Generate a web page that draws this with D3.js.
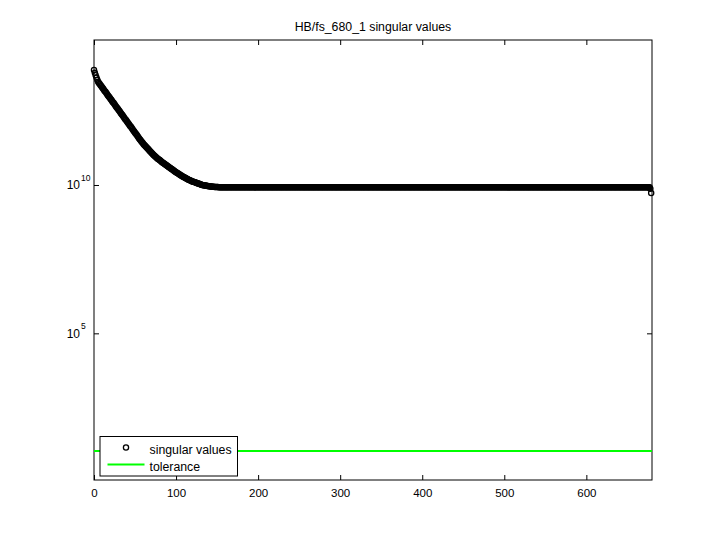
<!DOCTYPE html>
<html>
<head>
<meta charset="utf-8">
<script src="https://cdn.jsdelivr.net/npm/d3@7"></script>
<style>
  body { margin: 0; background: #fff; }
  text { font-family: "Liberation Sans", Arial, Helvetica, sans-serif; }
</style>
</head>
<body>
<svg id="chart" width="720" height="540"></svg>
<script>
// singular values, stored as log10 exponents
// first part: the decay from ~1e14 down to the plateau
let svDecayLog10 = [
  13.88,13.78,13.70,13.62,13.55,13.48,13.44,13.40,13.36,13.33,
  13.29,13.25,13.21,13.17,13.14,13.10,13.06,13.02,12.98,12.95,
  12.91,12.87,12.83,12.79,12.76,12.72,12.68,12.64,12.60,12.57,
  12.53,12.49,12.45,12.41,12.38,12.34,12.30,12.26,12.22,12.19,
  12.15,12.11,12.07,12.03,11.99,11.96,11.92,11.88,11.84,11.80,
  11.76,11.73,11.69,11.65,11.61,11.57,11.53,11.50,11.46,11.43,
  11.39,11.36,11.33,11.30,11.27,11.24,11.21,11.18,11.15,11.12,
  11.09,11.06,11.03,11.00,10.98,10.95,10.93,10.90,10.88,10.86,
  10.84,10.82,10.79,10.77,10.75,10.73,10.71,10.69,10.67,10.65,
  10.63,10.61,10.59,10.57,10.55,10.53,10.51,10.49,10.47,10.45,
  10.43,10.41,10.40,10.38,10.36,10.34,10.32,10.31,10.29,10.27,
  10.26,10.24,10.23,10.21,10.20,10.18,10.17,10.16,10.14,10.13,
  10.12,10.11,10.10,10.09,10.08,10.07,10.06,10.05,10.04,10.03,
  10.02,10.01,10.00,9.995,9.99,9.985,9.98,9.975,9.97,9.965,
  9.96,9.955,9.95,9.95,9.945,9.94,9.94,9.935,9.935,9.93,
  9.93,9.93,9.925,9.925,9.925
];
// second part: the long flat stretch just under 1e10
let svPlateauLog10 = [
  9.92,9.92,9.92,9.92,9.92,9.92,9.92,9.92,9.92,9.92,9.92,9.92,9.92,9.92,9.92,9.92,9.92,9.92,9.92,9.92,
  9.92,9.92,9.92,9.92,9.92,9.92,9.92,9.92,9.92,9.92,9.92,9.92,9.92,9.92,9.92,9.92,9.92,9.92,9.92,9.92,
  9.92,9.92,9.92,9.92,9.92,9.92,9.92,9.92,9.92,9.92,9.92,9.92,9.92,9.92,9.92,9.92,9.92,9.92,9.92,9.92,
  9.92,9.92,9.92,9.92,9.92,9.92,9.92,9.92,9.92,9.92,9.92,9.92,9.92,9.92,9.92,9.92,9.92,9.92,9.92,9.92,
  9.92,9.92,9.92,9.92,9.92,9.92,9.92,9.92,9.92,9.92,9.92,9.92,9.92,9.92,9.92,9.92,9.92,9.92,9.92,9.92,
  9.92,9.92,9.92,9.92,9.92,9.92,9.92,9.92,9.92,9.92,9.92,9.92,9.92,9.92,9.92,9.92,9.92,9.92,9.92,9.92,
  9.92,9.92,9.92,9.92,9.92,9.92,9.92,9.92,9.92,9.92,9.92,9.92,9.92,9.92,9.92,9.92,9.92,9.92,9.92,9.92,
  9.92,9.92,9.92,9.92,9.92,9.92,9.92,9.92,9.92,9.92,9.92,9.92,9.92,9.92,9.92,9.92,9.92,9.92,9.92,9.92,
  9.92,9.92,9.92,9.92,9.92,9.92,9.92,9.92,9.92,9.92,9.92,9.92,9.92,9.92,9.92,9.92,9.92,9.92,9.92,9.92,
  9.92,9.92,9.92,9.92,9.92,9.92,9.92,9.92,9.92,9.92,9.92,9.92,9.92,9.92,9.92,9.92,9.92,9.92,9.92,9.92,
  9.92,9.92,9.92,9.92,9.92,9.92,9.92,9.92,9.92,9.92,9.92,9.92,9.92,9.92,9.92,9.92,9.92,9.92,9.92,9.92,
  9.92,9.92,9.92,9.92,9.92,9.92,9.92,9.92,9.92,9.92,9.92,9.92,9.92,9.92,9.92,9.92,9.92,9.92,9.92,9.92,
  9.92,9.92,9.92,9.92,9.92,9.92,9.92,9.92,9.92,9.92,9.92,9.92,9.92,9.92,9.92,9.92,9.92,9.92,9.92,9.92,
  9.92,9.92,9.92,9.92,9.92,9.92,9.92,9.92,9.92,9.92,9.92,9.92,9.92,9.92,9.92,9.92,9.92,9.92,9.92,9.92,
  9.92,9.92,9.92,9.92,9.92,9.92,9.92,9.92,9.92,9.92,9.92,9.92,9.92,9.92,9.92,9.92,9.92,9.92,9.92,9.92,
  9.92,9.92,9.92,9.92,9.92,9.92,9.92,9.92,9.92,9.92,9.92,9.92,9.92,9.92,9.92,9.92,9.92,9.92,9.92,9.92,
  9.92,9.92,9.92,9.92,9.92,9.92,9.92,9.92,9.92,9.92,9.92,9.92,9.92,9.92,9.92,9.92,9.92,9.92,9.92,9.92,
  9.92,9.92,9.92,9.92,9.92,9.92,9.92,9.92,9.92,9.92,9.92,9.92,9.92,9.92,9.92,9.92,9.92,9.92,9.92,9.92,
  9.92,9.92,9.92,9.92,9.92,9.92,9.92,9.92,9.92,9.92,9.92,9.92,9.92,9.92,9.92,9.92,9.92,9.92,9.92,9.92,
  9.92,9.92,9.92,9.92,9.92,9.92,9.92,9.92,9.92,9.92,9.92,9.92,9.92,9.92,9.92,9.92,9.92,9.92,9.92,9.92,
  9.92,9.92,9.92,9.92,9.92,9.92,9.92,9.92,9.92,9.92,9.92,9.92,9.92,9.92,9.92,9.92,9.92,9.92,9.92,9.92,
  9.92,9.92,9.92,9.92,9.92,9.92,9.92,9.92,9.92,9.92,9.92,9.92,9.92,9.92,9.92,9.92,9.92,9.92,9.92,9.92,
  9.92,9.92,9.92,9.92,9.92,9.92,9.92,9.92,9.92,9.92,9.92,9.92,9.92,9.92,9.92,9.92,9.92,9.92,9.92,9.92,
  9.92,9.92,9.92,9.92,9.92,9.92,9.92,9.92,9.92,9.92,9.92,9.92,9.92,9.92,9.92,9.92,9.92,9.92,9.92,9.92,
  9.92,9.92,9.92,9.92,9.92,9.92,9.92,9.92,9.92,9.92,9.92,9.92,9.92,9.92,9.92,9.92,9.92,9.92,9.92,9.92,
  9.92,9.92,9.92,9.92,9.92,9.92,9.92,9.92,9.92,9.92,9.92,9.92,9.92,9.92,9.92,9.92,9.92,9.92,9.92,9.92,
  9.92,9.92,9.92
];
// last two, dropping off at the right edge
let svTailLog10 = [9.87, 9.73];

let tolerance = 10.8;
let xTicks = [0, 100, 200, 300, 400, 500, 600];
let yTicks = [1e5, 1e10];
let yTickExponents = ['5', '10'];
let title = 'HB/fs_680_1 singular values';
let legendLabels = ['singular values', 'tolerance'];

let singularValues = svDecayLog10.concat(svPlateauLog10, svTailLog10)
  .map((e, i) => ({'i': i, 'v': Math.pow(10, e)}));

let svg = d3.select('#chart');
let plotLeft = 94, plotRight = 652, plotTop = 40, plotBottom = 480;

let xScale = d3.scaleLinear().domain([0, 680]).range([plotLeft, plotRight]);
let yScale = d3.scaleLog().domain([Math.pow(10, 0.057), Math.pow(10, 14.887)]).range([plotBottom, plotTop]);

svg.append('rect')
  .attr('width', 720).attr('height', 540).attr('fill', '#fff');

// axes, MATLAB style: ticks point inwards on all four sides
let gx = svg.append('g')
  .attr('transform', `translate(0,${plotBottom})`)
  .call(d3.axisBottom(xScale).tickValues(xTicks).tickSizeInner(-5).tickSizeOuter(0).tickPadding(9));
svg.append('g')
  .attr('transform', `translate(0,${plotTop})`)
  .call(d3.axisTop(xScale).tickValues(xTicks).tickSizeInner(-5).tickSizeOuter(0).tickFormat(() => ''));
svg.append('g')
  .attr('transform', `translate(${plotLeft},0)`)
  .call(d3.axisLeft(yScale).tickValues(yTicks).tickSizeInner(-5).tickSizeOuter(0).tickFormat(() => ''));
svg.append('g')
  .attr('transform', `translate(${plotRight},0)`)
  .call(d3.axisRight(yScale).tickValues(yTicks).tickSizeInner(-5).tickSizeOuter(0).tickFormat(() => ''));

svg.selectAll('.domain').remove();
svg.selectAll('.tick line').attr('stroke', '#000');
gx.selectAll('text')
  .attr('font-size', 11.5)
  .attr('font-family', '"Liberation Sans", Arial, sans-serif')
  .attr('fill', '#000');

// y labels as 10 with a superscript exponent
yTicks.forEach((t, k) => {
  let y = yScale(t);
  svg.append('text')
    .attr('x', 80).attr('y', y + 4.5)
    .attr('text-anchor', 'end')
    .attr('font-size', 12)
    .text('10');
  svg.append('text')
    .attr('x', 81).attr('y', y - 4)
    .attr('font-size', 8.5)
    .text(yTickExponents[k]);
});

svg.append('rect')
  .attr('x', plotLeft).attr('y', plotTop)
  .attr('width', plotRight - plotLeft).attr('height', plotBottom - plotTop)
  .attr('fill', 'none').attr('stroke', '#000').attr('stroke-width', 1);

// tolerance line
svg.append('line')
  .attr('x1', xScale(0)).attr('x2', xScale(680))
  .attr('y1', yScale(tolerance)).attr('y2', yScale(tolerance))
  .attr('stroke', '#00ff00').attr('stroke-width', 2);

// singular values as open circles
svg.append('g')
  .selectAll('circle')
  .data(singularValues)
  .enter()
  .append('circle')
  .attr('cx', (d) => xScale(d.i))
  .attr('cy', (d) => yScale(d.v))
  .attr('r', 2.6)
  .attr('fill', 'none')
  .attr('stroke', '#000')
  .attr('stroke-width', 1.3);

svg.append('text')
  .attr('x', (plotLeft + plotRight) / 2).attr('y', 31)
  .attr('text-anchor', 'middle')
  .attr('font-size', 12.3)
  .text(title);

// legend
let legend = svg.append('g');
legend.append('rect')
  .attr('x', 100).attr('y', 436.5).attr('width', 137.5).attr('height', 39.5)
  .attr('fill', '#fff').attr('stroke', '#000').attr('stroke-width', 1);
legend.append('circle')
  .attr('cx', 126).attr('cy', 447.5).attr('r', 2.6)
  .attr('fill', 'none').attr('stroke', '#000').attr('stroke-width', 1.3);
legend.append('line')
  .attr('x1', 107.5).attr('x2', 144.5).attr('y1', 464.5).attr('y2', 464.5)
  .attr('stroke', '#00ff00').attr('stroke-width', 2);
legend.selectAll('text.legend-label')
  .data(legendLabels)
  .enter()
  .append('text')
  .classed('legend-label', true)
  .attr('x', 149.5)
  .attr('y', (d, i) => 454 + i * 17)
  .attr('font-size', 12.3)
  .text((d) => d);
</script>
</body>
</html>
